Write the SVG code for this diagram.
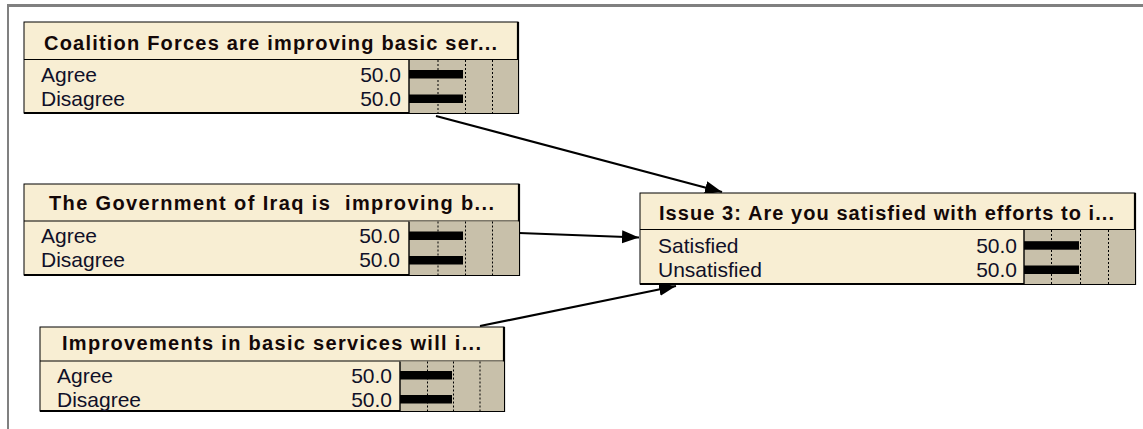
<svg xmlns="http://www.w3.org/2000/svg" width="1143" height="429" viewBox="0 0 1143 429">
<style>
.box{fill:#F8EED3;stroke:#000;stroke-width:1}
.shadow{fill:none;stroke:#000;stroke-width:2.2}
.sep{stroke:#000;stroke-width:1.2}
.barbg{fill:#C8C0AA;stroke:none}
.barline{stroke:#000;stroke-width:1.4}
.grid{stroke:#000;stroke-width:1;stroke-dasharray:2,2}
.bar{fill:#000}
.title{font-family:"Liberation Sans",Arial,sans-serif;font-weight:bold;font-size:20px;fill:#140808}
.lbl{font-family:"Liberation Sans",Arial,sans-serif;font-size:21px;fill:#101028}
.val{font-family:"Liberation Sans",Arial,sans-serif;font-size:21px;fill:#101028;text-anchor:end}
.edge{fill:none;stroke:#000;stroke-width:2.2}
</style>
<defs>
<marker id="arr" markerUnits="userSpaceOnUse" markerWidth="18" markerHeight="14" refX="17" refY="6.5" orient="auto">
<path d="M0,0 L17,6.5 L0,13 z" fill="#000"/>
</marker>
</defs>
<rect x="7" y="4" width="1136" height="3" fill="#808080"/>
<rect x="7" y="4" width="2" height="425" fill="#808080"/>

<g id="connectors">
<line class="edge" x1="436" y1="116" x2="722" y2="192" marker-end="url(#arr)"/>
<line class="edge" x1="519" y1="233" x2="639" y2="237.5" marker-end="url(#arr)"/>
<line class="edge" x1="480" y1="326" x2="676" y2="286" marker-end="url(#arr)"/>
</g>

<g id="node-coalition">
<rect class="box" x="24" y="22" width="494" height="91"/>
<path class="shadow" d="M518,22 V113 H24"/>
<line class="sep" x1="24" y1="59.5" x2="518" y2="59.5"/>
<rect class="barbg" x="409" y="60" width="109" height="53"/>
<line class="barline" x1="409" y1="60" x2="409" y2="113"/>
<line class="grid" x1="438" y1="60" x2="438" y2="113"/>
<line class="grid" x1="465.5" y1="60" x2="465.5" y2="113"/>
<line class="grid" x1="492.5" y1="60" x2="492.5" y2="113"/>
<rect class="bar" x="409" y="70" width="54" height="8.5"/>
<rect class="bar" x="409" y="94.5" width="54" height="8.5"/>
<text class="title" x="44" y="50" textLength="453" lengthAdjust="spacing">Coalition Forces are improving basic ser...</text>
<text class="lbl" x="41" y="81.7">Agree</text>
<text class="lbl" x="41" y="106">Disagree</text>
<text class="val" x="401" y="81.7">50.0</text>
<text class="val" x="401" y="106">50.0</text>
</g>

<g id="node-government">
<rect class="box" x="24" y="184" width="495" height="91"/>
<path class="shadow" d="M519,184 V275 H24"/>
<line class="sep" x1="24" y1="221" x2="519" y2="221"/>
<rect class="barbg" x="409" y="221.5" width="110" height="53.5"/>
<line class="barline" x1="409" y1="221.5" x2="409" y2="275"/>
<line class="grid" x1="438" y1="221.5" x2="438" y2="275"/>
<line class="grid" x1="465.5" y1="221.5" x2="465.5" y2="275"/>
<line class="grid" x1="492.5" y1="221.5" x2="492.5" y2="275"/>
<rect class="bar" x="409" y="231.5" width="54" height="8.5"/>
<rect class="bar" x="409" y="256" width="54" height="8.5"/>
<text class="title" x="49" y="209.5" textLength="445" lengthAdjust="spacing" xml:space="preserve">The Government of Iraq is  improving b...</text>
<text class="lbl" x="41" y="243">Agree</text>
<text class="lbl" x="41" y="267">Disagree</text>
<text class="val" x="400" y="243">50.0</text>
<text class="val" x="400" y="267">50.0</text>
</g>

<g id="node-issue3">
<rect class="box" x="640" y="193" width="495" height="91"/>
<path class="shadow" d="M1135,193 V284 H640"/>
<line class="sep" x1="640" y1="229.5" x2="1135" y2="229.5"/>
<rect class="barbg" x="1024" y="230" width="111" height="54"/>
<line class="barline" x1="1024" y1="230" x2="1024" y2="284"/>
<line class="grid" x1="1051.5" y1="230" x2="1051.5" y2="284"/>
<line class="grid" x1="1080.5" y1="230" x2="1080.5" y2="284"/>
<line class="grid" x1="1108.5" y1="230" x2="1108.5" y2="284"/>
<rect class="bar" x="1024" y="241.2" width="55" height="8.5"/>
<rect class="bar" x="1024" y="265.5" width="55" height="8.5"/>
<text class="title" x="659" y="220" textLength="455" lengthAdjust="spacing">Issue 3: Are you satisfied with efforts to i...</text>
<text class="lbl" x="658" y="252.5">Satisfied</text>
<text class="lbl" x="658" y="276.7">Unsatisfied</text>
<text class="val" x="1017" y="252.5">50.0</text>
<text class="val" x="1017" y="276.7">50.0</text>
</g>

<g id="node-improvements">
<rect class="box" x="40" y="327" width="464" height="84"/>
<path class="shadow" d="M504,327 V411 H40"/>
<line class="sep" x1="40" y1="361" x2="504" y2="361"/>
<rect class="barbg" x="400" y="361.5" width="104" height="49.5"/>
<line class="barline" x1="400" y1="361.5" x2="400" y2="411"/>
<line class="grid" x1="427.5" y1="361.5" x2="427.5" y2="411"/>
<line class="grid" x1="453.5" y1="361.5" x2="453.5" y2="411"/>
<line class="grid" x1="480" y1="361.5" x2="480" y2="411"/>
<rect class="bar" x="400" y="371" width="52" height="8.5"/>
<rect class="bar" x="400" y="395" width="52" height="8.5"/>
<text class="title" x="62" y="349.5" textLength="419" lengthAdjust="spacing">Improvements in basic services will i...</text>
<text class="lbl" x="57" y="382.5">Agree</text>
<text class="lbl" x="57" y="406.5">Disagree</text>
<text class="val" x="392" y="382.5">50.0</text>
<text class="val" x="392" y="406.5">50.0</text>
</g>
</svg>
